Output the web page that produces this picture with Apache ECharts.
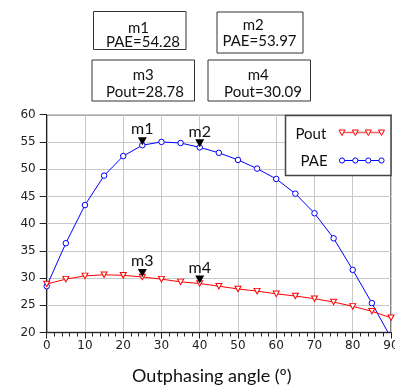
<!DOCTYPE html>
<html>
<head>
<meta charset="utf-8">
<script src="https://cdn.jsdelivr.net/npm/echarts@6/dist/echarts.min.js"></script>
<style>
  html, body { margin: 0; padding: 0; background: #fff; }
  #main { width: 395px; height: 387px; }
</style>
</head>
<body>
<div id="main"></div>
<script>
// outphasing angle (deg) and the two curves
var angles = [0, 5, 10, 15, 20, 25, 30, 35, 40, 45, 50, 55, 60, 65, 70, 75, 80, 85, 90];
var pae = [28.5, 36.4, 43.4, 48.8, 52.4, 54.4, 55.0, 54.8, 54.0, 53.0, 51.7, 50.1, 48.2, 45.5, 41.9, 37.3, 31.5, 25.4, 19.0];
var pout = [28.9, 29.8, 30.4, 30.6, 30.5, 30.2, 29.8, 29.3, 29.0, 28.5, 28.0, 27.6, 27.1, 26.7, 26.2, 25.6, 24.8, 23.9, 22.7];

// marker names and which point they sit on
var paeMarkers = [{name: 'm1', idx: 5}, {name: 'm2', idx: 8}];
var poutMarkers = [{name: 'm3', idx: 5}, {name: 'm4', idx: 8}];

// readout boxes above the plot
var boxTitles = ['m1', 'm2', 'm3', 'm4'];
var boxTexts = ['PAE=54.28', 'PAE=53.97', 'Pout=28.78', 'Pout=30.09'];

var FONT = 'Lato, "Open Sans", sans-serif';

function toPairs(ys) {
  return angles.map(function (a, i) { return [a, ys[i]]; });
}

function markData(markers, ys) {
  return markers.map(function (m) {
    return {name: m.name, coord: [angles[m.idx], ys[m.idx]]};
  });
}

var markPointBase = {
  symbol: 'path://M0,0L10,0L5,9Z',
  symbolSize: [9, 8],
  symbolOffset: [0, -4],
  itemStyle: {color: '#000'},
  label: {
    show: true, position: 'top', distance: 0, formatter: '{b}',
    color: '#111', fontSize: 16, fontFamily: FONT
  }
};

// boxes: [x, y, w, h, titleX, titleY, textX, textY]
var boxLayout = [
  [93.5, 11.5, 92.5, 38, 138.5, 28, 143, 42.5],
  [217, 12, 86, 41, 253.3, 25.5, 259.5, 41],
  [92, 60, 102.5, 41, 143.3, 75.5, 145, 92.5],
  [208, 60, 102.5, 41, 258.3, 75.5, 263, 92.5]
];

var graphics = [];
boxLayout.forEach(function (b, i) {
  graphics.push({
    type: 'rect', z: 100,
    shape: {x: b[0], y: b[1], width: b[2], height: b[3]},
    style: {fill: '#fff', stroke: '#333', lineWidth: 1}
  });
  graphics.push({
    type: 'text', z: 101,
    style: {x: b[4], y: b[5], text: boxTitles[i], font: '15px ' + FONT, fill: '#111', align: 'center', verticalAlign: 'middle'}
  });
  graphics.push({
    type: 'text', z: 101,
    style: {x: b[6], y: b[7], text: boxTexts[i], font: '15px ' + FONT, fill: '#111', align: 'center', verticalAlign: 'middle'}
  });
});

// legend drawn by hand so the sample line can carry four markers
graphics.push({
  type: 'rect', z: 100,
  shape: {x: 285.5, y: 115.5, width: 105.5, height: 60},
  style: {fill: '#fff', stroke: '#444', lineWidth: 1.5}
});
graphics.push({
  type: 'text', z: 101,
  style: {x: 295.5, y: 134, text: 'Pout', font: '15px ' + FONT, fill: '#111', verticalAlign: 'middle'}
});
graphics.push({
  type: 'text', z: 101,
  style: {x: 300.5, y: 161.5, text: 'PAE', font: '15px ' + FONT, fill: '#111', verticalAlign: 'middle'}
});
graphics.push({
  type: 'line', z: 101,
  shape: {x1: 340, y1: 132.5, x2: 383.5, y2: 132.5},
  style: {stroke: '#f06060', lineWidth: 1.5}
});
graphics.push({
  type: 'line', z: 101,
  shape: {x1: 340, y1: 160.5, x2: 383.5, y2: 160.5},
  style: {stroke: '#0000ff', lineWidth: 1}
});
[342, 355.3, 368.3, 381.5].forEach(function (cx) {
  graphics.push({
    type: 'polygon', z: 102,
    shape: {points: [[cx - 3, 130], [cx + 3, 130], [cx, 135.5]]},
    style: {fill: '#fff', stroke: '#ff0000', lineWidth: 1}
  });
  graphics.push({
    type: 'circle', z: 102,
    shape: {cx: cx, cy: 160.5, r: 2.6},
    style: {fill: '#fff', stroke: '#0000ff', lineWidth: 1}
  });
});

var option = {
  animation: false,
  backgroundColor: '#fff',
  grid: {
    left: 46.7, right: 4, top: 114.7, bottom: 54.5,
    outerBoundsMode: 'none', containLabel: false,
    show: true, borderColor: '#555', borderWidth: 1.5
  },
  xAxis: {
    type: 'value', min: 0, max: 90, interval: 10,
    name: 'Outphasing angle (º)', nameLocation: 'middle', nameGap: 35,
    nameTextStyle: {fontFamily: FONT, fontSize: 18, color: '#111', padding: [0, 14, 0, 0]},
    axisLine: {show: true, lineStyle: {color: '#222', width: 1}},
    axisTick: {show: true, length: 6, lineStyle: {color: '#222'}},
    minorTick: {show: true, splitNumber: 5, length: 4, lineStyle: {color: '#222'}},
    axisLabel: {fontFamily: 'DejaVu Sans', fontSize: 12, color: '#222', margin: 7},
    splitLine: {show: true, lineStyle: {color: '#c8c8c8', width: 1}}
  },
  yAxis: {
    type: 'value', min: 20, max: 60, interval: 5,
    axisLine: {show: true, lineStyle: {color: '#222', width: 1}},
    axisTick: {show: true, length: 7, lineStyle: {color: '#222'}},
    axisLabel: {fontFamily: 'DejaVu Sans', fontSize: 12, color: '#222', margin: 11},
    splitLine: {show: true, lineStyle: {color: '#c8c8c8', width: 1}}
  },
  series: [
    {
      name: 'PAE', type: 'line', data: toPairs(pae),
      symbol: 'circle', symbolSize: 5.5,
      lineStyle: {color: '#0000ff', width: 1},
      itemStyle: {color: '#fff', borderColor: '#0000ff', borderWidth: 1},
      markPoint: Object.assign({}, markPointBase, {data: markData(paeMarkers, pae)})
    },
    {
      name: 'Pout', type: 'line', data: toPairs(pout),
      symbol: 'path://M0,0L10,0L5,9Z', symbolSize: [6, 5.5],
      lineStyle: {color: '#ff0000', width: 1},
      itemStyle: {color: '#fff', borderColor: '#ff0000', borderWidth: 1},
      markPoint: Object.assign({}, markPointBase, {data: markData(poutMarkers, pout)})
    }
  ],
  graphic: graphics
};

var myChart = echarts.init(document.getElementById('main'));
myChart.setOption(option);
</script>
</body>
</html>
